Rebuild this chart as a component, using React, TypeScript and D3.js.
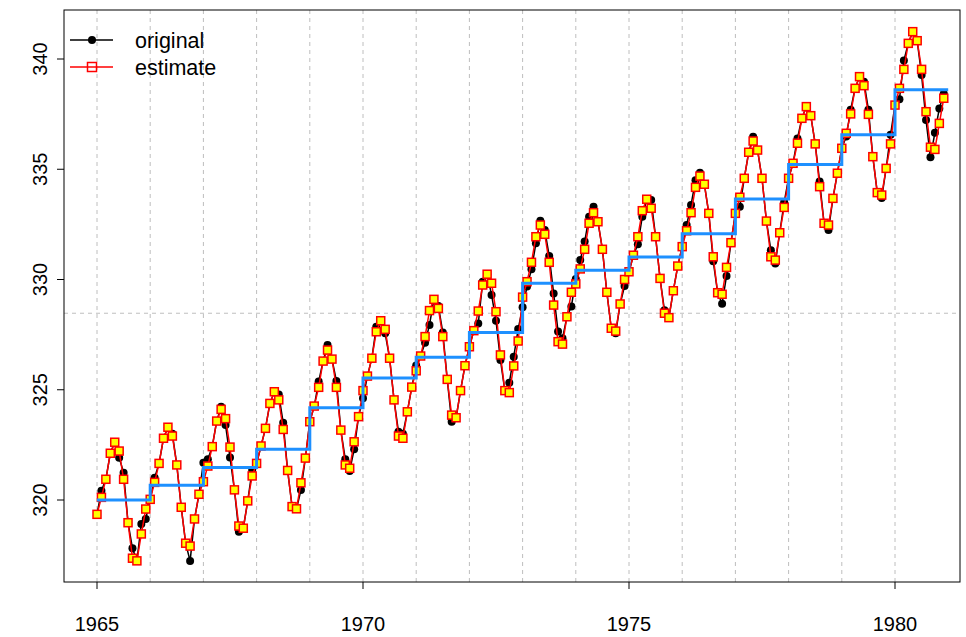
import React from "react";
import * as d3 from "d3";

const startYear = 1965;
const years = d3.range(1965, 1981);

const estimate: number[] = [
  319.35, 320.12, 320.94, 322.12, 322.62, 322.22, 320.94, 318.97, 317.36, 317.24, 318.46, 319.59,
  320.03, 320.8, 321.66, 322.8, 323.3, 322.9, 321.59, 319.67, 318.04, 317.91, 319.14, 320.26,
  320.83, 321.54, 322.42, 323.58, 324.11, 323.69, 322.4, 320.46, 318.82, 318.72, 319.96, 321.09,
  321.66, 322.45, 323.25, 324.38, 324.91, 324.54, 323.2, 321.34, 319.7, 319.6, 320.78, 321.9,
  323.55, 324.26, 325.11, 326.3, 326.8, 326.39, 325.11, 323.17, 321.59, 321.44, 322.64, 323.78,
  324.96, 325.62, 326.43, 327.63, 328.13, 327.74, 326.43, 324.54, 322.9, 322.8, 324.0, 325.12,
  325.86, 326.53, 327.41, 328.59, 329.1, 328.69, 327.41, 325.47, 323.85, 323.73, 324.96, 326.09,
  326.95, 327.68, 328.57, 329.75, 330.24, 329.83, 328.54, 326.58, 324.96, 324.87, 326.08, 327.21,
  329.2, 329.9, 330.78, 331.94, 332.47, 332.05, 330.78, 328.84, 327.18, 327.07, 328.31, 329.42,
  329.8, 330.48, 331.37, 332.55, 333.03, 332.62, 331.37, 329.42, 327.79, 327.66, 328.89, 330.0,
  330.35, 331.1, 331.94, 333.12, 333.64, 333.23, 331.94, 330.05, 328.47, 328.27, 329.49, 330.61,
  331.49, 332.21, 333.03, 334.18, 334.69, 334.32, 333.0, 331.03, 329.4, 329.33, 330.55, 331.67,
  333.0, 333.73, 334.59, 335.77, 336.28, 335.87, 334.59, 332.65, 331.03, 330.88, 332.12, 333.27,
  334.59, 335.27, 336.18, 337.31, 337.84, 337.43, 336.15, 334.21, 332.55, 332.47, 333.68, 334.82,
  335.95, 336.63, 337.51, 338.67, 339.2, 338.79, 337.49, 335.57, 333.94, 333.83, 335.04, 336.15,
  337.91, 338.67, 339.53, 340.71, 341.24, 340.83, 339.53, 337.61, 336.0, 335.9, 337.08, 338.22,
];

const original: number[] = [
  319.35, 320.42, 320.94, 322.12, 322.62, 321.92, 321.24, 318.97, 317.81, 317.24, 318.91, 319.14,
  320.03, 321.01, 321.66, 322.8, 323.3, 323.0, 321.59, 319.67, 318.04, 317.23, 319.14, 320.26,
  321.69, 321.85, 322.42, 323.58, 324.23, 323.4, 321.93, 320.46, 318.56, 318.72, 319.96, 321.36,
  321.66, 322.45, 323.25, 324.38, 324.91, 324.79, 323.5, 321.34, 319.7, 319.6, 320.45, 321.9,
  323.55, 324.26, 325.37, 326.3, 327.03, 326.39, 325.4, 323.17, 321.85, 321.32, 322.3, 323.78,
  324.61, 325.62, 326.43, 327.86, 328.13, 327.56, 326.43, 324.54, 323.1, 323.0, 324.0, 325.12,
  326.1, 326.53, 327.13, 327.94, 329.1, 328.8, 327.6, 325.47, 323.55, 323.73, 324.96, 326.09,
  326.95, 327.68, 328.0, 329.9, 330.24, 329.3, 328.13, 326.35, 324.96, 325.32, 326.5, 327.75,
  328.74, 329.68, 330.46, 331.64, 332.67, 332.24, 331.07, 329.37, 327.64, 327.33, 328.31, 328.77,
  330.02, 330.88, 331.72, 332.85, 333.3, 332.62, 331.37, 329.42, 327.79, 327.56, 328.89, 329.7,
  330.35, 331.1, 331.6, 332.85, 333.64, 333.6, 331.94, 330.05, 328.6, 328.27, 329.49, 330.61,
  331.49, 332.47, 333.38, 334.5, 334.84, 334.32, 333.0, 330.83, 329.4, 328.9, 330.16, 331.67,
  333.0, 333.3, 334.59, 335.77, 336.47, 335.87, 334.59, 332.65, 331.33, 330.73, 332.12, 333.5,
  334.59, 335.27, 336.4, 337.31, 337.84, 337.43, 336.15, 334.44, 332.55, 332.25, 333.68, 334.82,
  335.95, 336.48, 337.7, 338.67, 339.2, 338.97, 337.7, 335.57, 333.94, 333.7, 335.04, 336.56,
  337.91, 338.17, 339.93, 340.71, 341.24, 340.83, 339.27, 337.23, 335.54, 336.66, 337.76, 338.42,
];

const annualLevel: number[] = [
  320.0, 320.67, 321.47, 322.3, 324.18, 325.53, 326.47, 327.6,
  329.83, 330.42, 331.02, 332.08, 333.65, 335.21, 336.56, 338.6,
];

const overallMean = 328.47;
const xTicks = [1965, 1970, 1975, 1980];
const yTicks = [320, 325, 330, 335, 340];
const gridYears = d3.range(1965, 1981);
const legendLabels = ["original", "estimate"];

const W = 966;
const H = 637;
const box = { left: 64, right: 960, top: 10, bottom: 582 };
const FONT = "'Liberation Sans', Arial, Helvetica, sans-serif";

export default function App() {
  const x = d3.scaleLinear().domain([1965, 1980]).range([97, 895]);
  const y = d3.scaleLinear().domain([320, 340]).range([500, 59]);
  const t = (i: number) => startYear + i / 12;

  const line = d3
    .line<number>()
    .x((_, i) => x(t(i)))
    .y((d) => y(d));

  const stepPts: [number, number][] = years.map((yr, i) => [yr, annualLevel[i]]);
  stepPts.push([years[years.length - 1] + 1, annualLevel[annualLevel.length - 1]]);
  const stepLine = d3
    .line<[number, number]>()
    .x((d) => x(d[0]))
    .y((d) => y(d[1]))
    .curve(d3.curveStepAfter);

  const sq = 8;
  const gridColor = "#BEBEBE";

  return (
    <svg
      width={W}
      height={H}
      style={{ position: "absolute", left: 0, top: 0, background: "#fff" }}
      fontFamily={FONT}
    >
      <rect x={0} y={0} width={W} height={H} fill="#fff" />
      {gridYears.map((g) => (
        <line
          key={"g" + g}
          x1={x(g)}
          x2={x(g)}
          y1={box.top}
          y2={box.bottom}
          stroke={gridColor}
          strokeWidth={1}
          strokeDasharray="4,4"
        />
      ))}
      <line
        x1={box.left}
        x2={box.right}
        y1={y(overallMean)}
        y2={y(overallMean)}
        stroke={gridColor}
        strokeWidth={1}
        strokeDasharray="4,4"
      />

      <path d={line(original) || ""} fill="none" stroke="#000" strokeWidth={1.5} />
      {original.map((v, i) => (
        <circle key={"o" + i} cx={x(t(i))} cy={y(v)} r={4} fill="#000" />
      ))}

      <path d={line(estimate) || ""} fill="none" stroke="#FF0000" strokeWidth={1.5} />
      {estimate.map((v, i) => (
        <rect
          key={"e" + i}
          x={x(t(i)) - sq / 2}
          y={y(v) - sq / 2}
          width={sq}
          height={sq}
          fill="#FFFF00"
          stroke="#FF0000"
          strokeWidth={1.5}
        />
      ))}

      <path d={stepLine(stepPts) || ""} fill="none" stroke="#1E90FF" strokeWidth={3} />

      <rect
        x={box.left}
        y={box.top}
        width={box.right - box.left}
        height={box.bottom - box.top}
        fill="none"
        stroke="#000"
        strokeWidth={1}
      />

      {xTicks.map((v) => (
        <g key={"xt" + v}>
          <line x1={x(v)} x2={x(v)} y1={box.bottom} y2={box.bottom + 7} stroke="#000" />
          <text x={x(v)} y={631} textAnchor="middle" fontSize={20} fill="#000">
            {v}
          </text>
        </g>
      ))}

      {yTicks.map((v) => (
        <g key={"yt" + v}>
          <line x1={box.left - 7} x2={box.left} y1={y(v)} y2={y(v)} stroke="#000" />
          <text
            transform={`translate(47,${y(v)}) rotate(-90)`}
            textAnchor="middle"
            fontSize={20}
            fill="#000"
          >
            {v}
          </text>
        </g>
      ))}

      <g>
        <line x1={70} x2={113} y1={40} y2={40} stroke="#000" strokeWidth={1.5} />
        <circle cx={92} cy={40} r={4} fill="#000" />
        <text x={135} y={48} fontSize={21.5} fill="#000">
          {legendLabels[0]}
        </text>
        <line x1={70} x2={113} y1={67} y2={67} stroke="#FF0000" strokeWidth={1.5} />
        <rect
          x={92 - 4.5}
          y={67 - 4.5}
          width={9}
          height={9}
          fill="none"
          stroke="#FF0000"
          strokeWidth={1.5}
        />
        <text x={135} y={75} fontSize={21.5} fill="#000">
          {legendLabels[1]}
        </text>
      </g>
    </svg>
  );
}
